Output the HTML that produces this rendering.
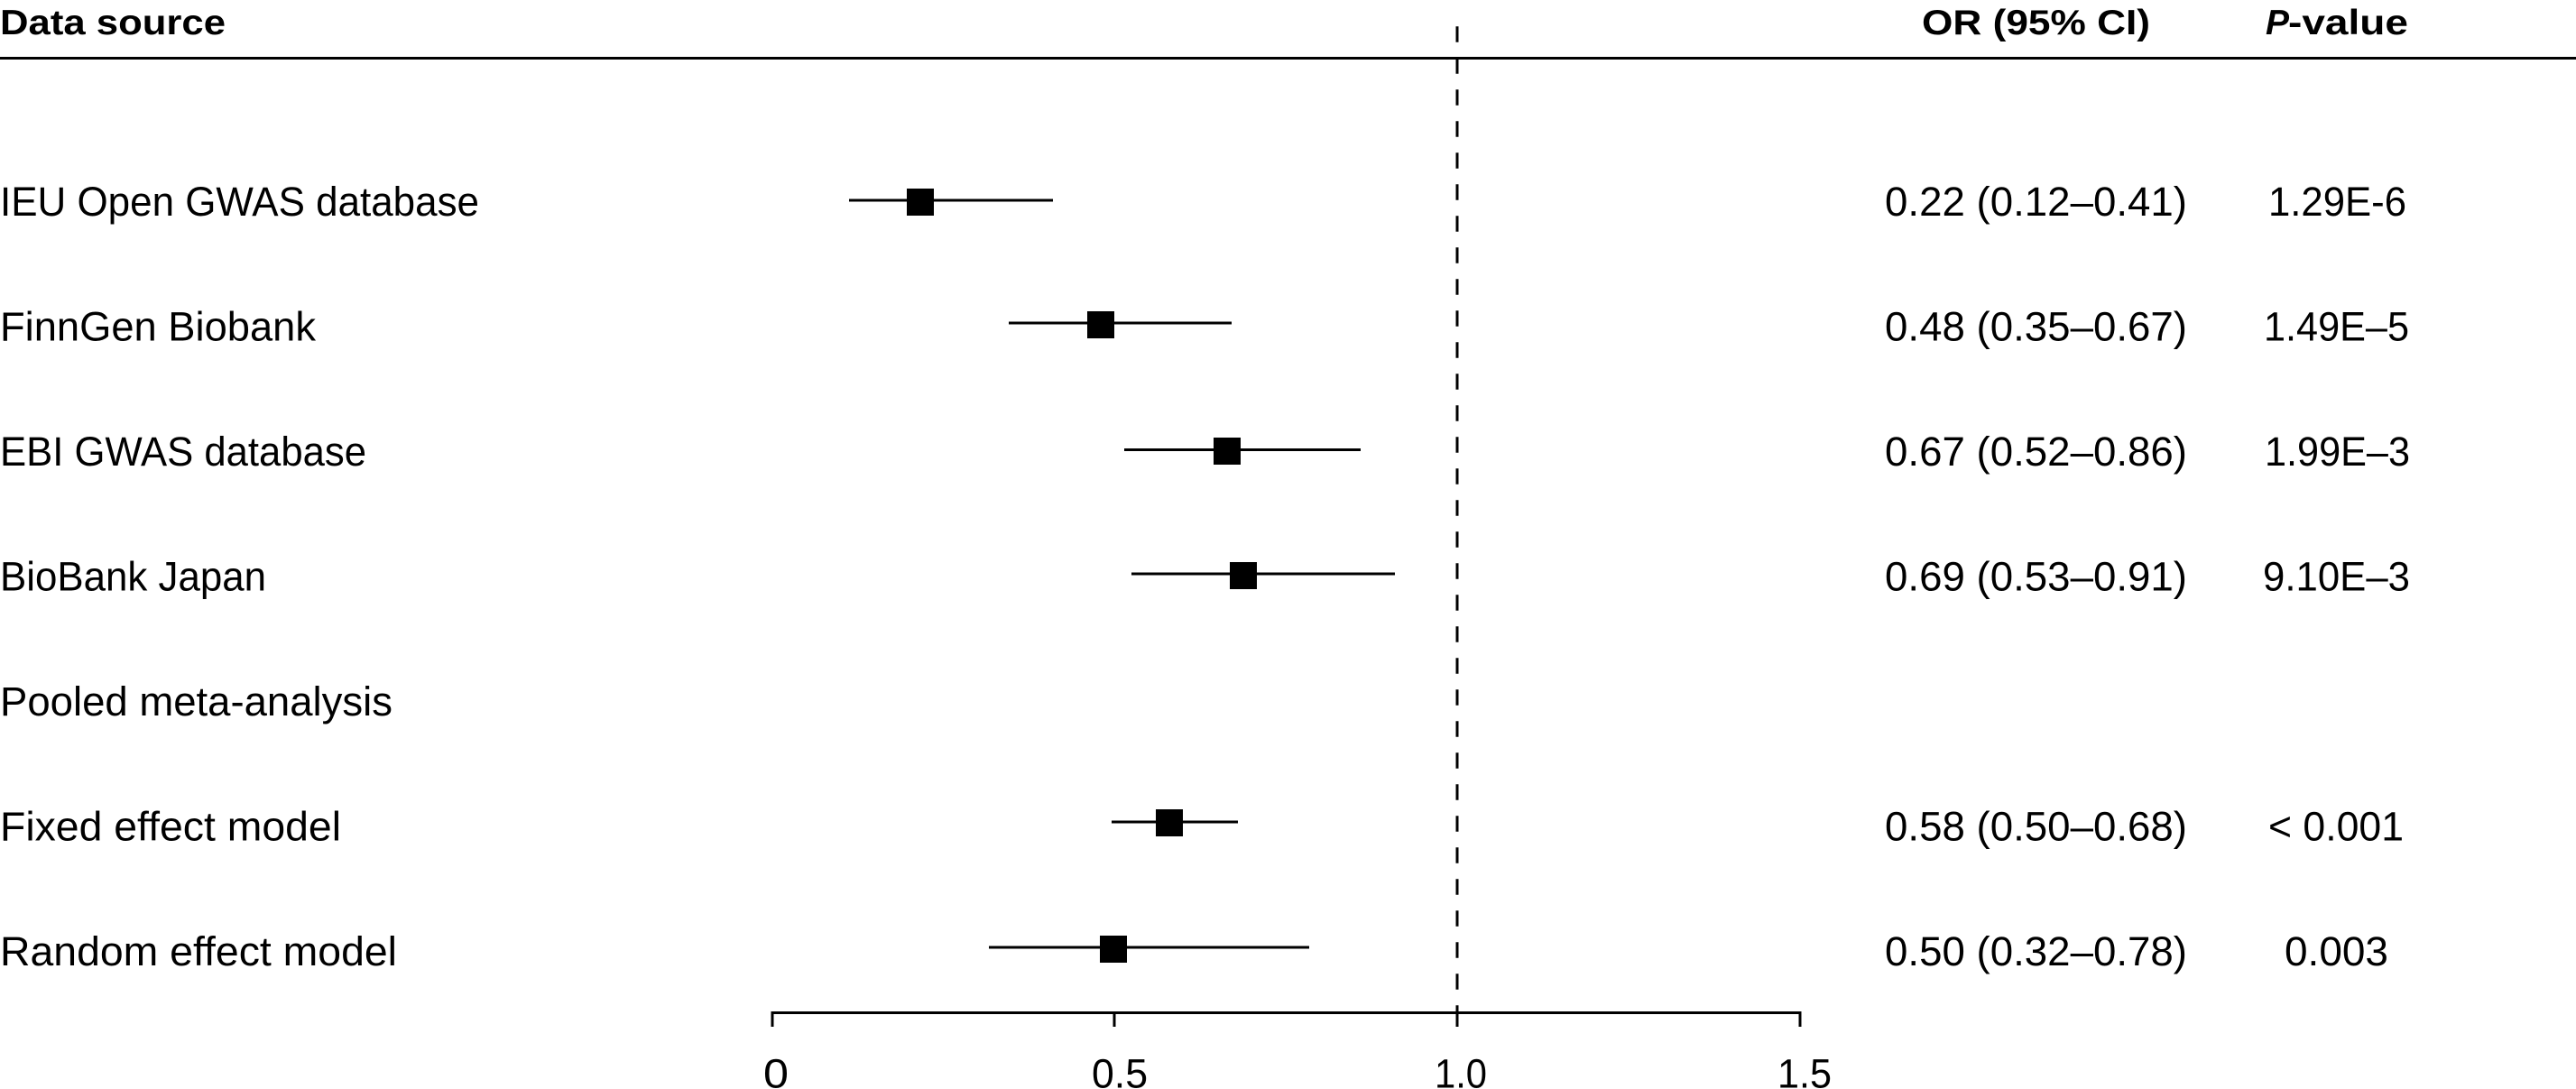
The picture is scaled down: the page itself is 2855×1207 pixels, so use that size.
<!DOCTYPE html>
<html>
<head>
<meta charset="utf-8">
<style>
html,body{margin:0;padding:0;background:#fff;}
svg{display:block;}
text{font-family:"Liberation Sans",Arial,sans-serif;fill:#000;}
.h{font-weight:bold;font-size:39px;}
.t{font-size:45px;}
</style>
</head>
<body>
<svg width="2855" height="1207" viewBox="0 0 2855 1207" xmlns="http://www.w3.org/2000/svg">
<rect x="0" y="0" width="2855" height="1207" fill="#fff"/>

<!-- headers -->
<text class="h" x="0" y="38" textLength="250" lengthAdjust="spacingAndGlyphs">Data source</text>
<text class="h" x="2130" y="38" textLength="253" lengthAdjust="spacingAndGlyphs">OR (95% CI)</text>
<text class="h" x="2511" y="38" font-style="italic" textLength="26" lengthAdjust="spacingAndGlyphs">P</text>
<text class="h" x="2536" y="38" textLength="133" lengthAdjust="spacingAndGlyphs">-value</text>

<!-- header rule -->
<rect x="0" y="63" width="2855" height="3" fill="#000"/>

<!-- dashed reference line at 1.0 -->
<line x1="1615" y1="29.3" x2="1615" y2="1123" stroke="#000" stroke-width="3" stroke-dasharray="17.5 17.5"/>

<!-- row labels -->
<text class="t" x="0" y="239" textLength="531" lengthAdjust="spacingAndGlyphs">IEU Open GWAS database</text>
<text class="t" x="0" y="377.5" textLength="350" lengthAdjust="spacingAndGlyphs">FinnGen Biobank</text>
<text class="t" x="0" y="516" textLength="406" lengthAdjust="spacingAndGlyphs">EBI GWAS database</text>
<text class="t" x="0" y="654.5" textLength="295" lengthAdjust="spacingAndGlyphs">BioBank Japan</text>
<text class="t" x="0" y="793" textLength="435" lengthAdjust="spacingAndGlyphs">Pooled meta-analysis</text>
<text class="t" x="0" y="931.5" textLength="378" lengthAdjust="spacingAndGlyphs">Fixed effect model</text>
<text class="t" x="0" y="1070" textLength="440" lengthAdjust="spacingAndGlyphs">Random effect model</text>

<!-- OR values -->
<text class="t" x="2089" y="239" textLength="335" lengthAdjust="spacingAndGlyphs">0.22 (0.12–0.41)</text>
<text class="t" x="2089" y="377.5" textLength="335" lengthAdjust="spacingAndGlyphs">0.48 (0.35–0.67)</text>
<text class="t" x="2089" y="516" textLength="335" lengthAdjust="spacingAndGlyphs">0.67 (0.52–0.86)</text>
<text class="t" x="2089" y="654.5" textLength="335" lengthAdjust="spacingAndGlyphs">0.69 (0.53–0.91)</text>
<text class="t" x="2089" y="931.5" textLength="335" lengthAdjust="spacingAndGlyphs">0.58 (0.50–0.68)</text>
<text class="t" x="2089" y="1070" textLength="335" lengthAdjust="spacingAndGlyphs">0.50 (0.32–0.78)</text>

<!-- P values -->
<text class="t" x="2514" y="239" textLength="153" lengthAdjust="spacingAndGlyphs">1.29E-6</text>
<text class="t" x="2509" y="377.5" textLength="161" lengthAdjust="spacingAndGlyphs">1.49E–5</text>
<text class="t" x="2510" y="516" textLength="161" lengthAdjust="spacingAndGlyphs">1.99E–3</text>
<text class="t" x="2508" y="654.5" textLength="163" lengthAdjust="spacingAndGlyphs">9.10E–3</text>
<text class="t" x="2514" y="931.5" textLength="150" lengthAdjust="spacingAndGlyphs">&lt; 0.001</text>
<text class="t" x="2532" y="1070" textLength="115" lengthAdjust="spacingAndGlyphs">0.003</text>

<!-- CI lines -->
<rect x="941" y="220.5" width="226" height="3" fill="#000"/>
<rect x="1118" y="356.5" width="247" height="3" fill="#000"/>
<rect x="1246" y="497" width="262" height="3" fill="#000"/>
<rect x="1254" y="634.5" width="292" height="3" fill="#000"/>
<rect x="1232" y="909.5" width="140" height="3" fill="#000"/>
<rect x="1096" y="1048.5" width="355" height="3" fill="#000"/>

<!-- point estimates -->
<rect x="1005" y="209" width="30" height="30" fill="#000"/>
<rect x="1205" y="345" width="30" height="30" fill="#000"/>
<rect x="1345" y="485" width="30" height="30" fill="#000"/>
<rect x="1363" y="623" width="30" height="30" fill="#000"/>
<rect x="1281" y="897" width="30" height="30" fill="#000"/>
<rect x="1219" y="1037" width="30" height="30" fill="#000"/>

<!-- x axis -->
<rect x="854.5" y="1121" width="1142" height="3" fill="#000"/>
<rect x="854.5" y="1121" width="3" height="17" fill="#000"/>
<rect x="1233.5" y="1121" width="3" height="17" fill="#000"/>
<rect x="1613.5" y="1121" width="3" height="17" fill="#000"/>
<rect x="1993.5" y="1121" width="3" height="17" fill="#000"/>

<!-- tick labels -->
<text class="t" x="846" y="1205.5" textLength="28" lengthAdjust="spacingAndGlyphs">0</text>
<text class="t" x="1210" y="1205.5" textLength="62" lengthAdjust="spacingAndGlyphs">0.5</text>
<text class="t" x="1590" y="1205.5" textLength="58" lengthAdjust="spacingAndGlyphs">1.0</text>
<text class="t" x="1970" y="1205.5" textLength="60" lengthAdjust="spacingAndGlyphs">1.5</text>
</svg>
</body>
</html>
